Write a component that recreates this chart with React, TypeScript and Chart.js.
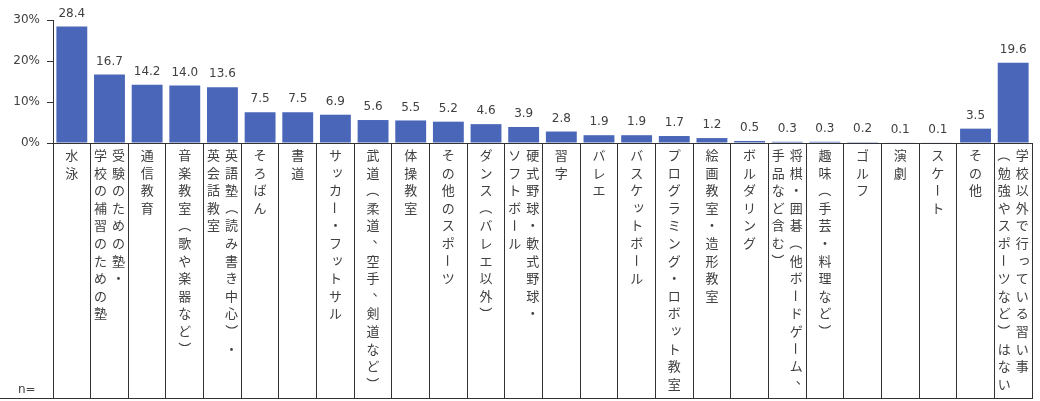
import { useEffect, useRef } from "react"
import { Chart, registerables } from "chart.js"

Chart.register(...registerables)

// カテゴリ（縦書き、各列は右から左の順）
const categories: string[][] = [
  ["水泳"],
  ["受験のための塾・", "学校の補習のための塾"],
  ["通信教育"],
  ["音楽教室（歌や楽器など）"],
  ["英語塾（読み書き中心）・", "英会話教室"],
  ["そろばん"],
  ["書道"],
  ["サッカー・フットサル"],
  ["武道（柔道、空手、剣道など）"],
  ["体操教室"],
  ["その他のスポーツ"],
  ["ダンス（バレエ以外）"],
  ["硬式野球・軟式野球・", "ソフトボール"],
  ["習字"],
  ["バレエ"],
  ["バスケットボール"],
  ["プログラミング・ロボット教室"],
  ["絵画教室・造形教室"],
  ["ボルダリング"],
  ["将棋・囲碁（他ボードゲーム、", "手品など含む）"],
  ["趣味（手芸・料理など）"],
  ["ゴルフ"],
  ["演劇"],
  ["スケート"],
  ["その他"],
  ["学校以外で行っている習い事", "（勉強やスポーツなど）はない"],
]

const values = [
  28.4, 16.7, 14.2, 14.0, 13.6, 7.5, 7.5, 6.9, 5.6, 5.5, 5.2, 4.6, 3.9,
  2.8, 1.9, 1.9, 1.7, 1.2, 0.5, 0.3, 0.3, 0.2, 0.1, 0.1, 3.5, 19.6,
]

const yTicks = [0, 10, 20, 30]
const nLabel = "n="

const TEXT = "#404040"
const LINE = "#333333"
const NUM_FONT = "12px 'DejaVu Sans', Verdana, sans-serif"
const JP_FONT = "13px 'Noto Sans CJK JP', sans-serif"

const rotated = "ー（）～"
const small = "ッャュョァィゥェォっゃゅょぁぃぅぇぉ"

function drawChar(ctx: CanvasRenderingContext2D, ch: string, x: number, y: number) {
  if (rotated.includes(ch)) {
    ctx.save()
    ctx.translate(x, y)
    ctx.rotate(Math.PI / 2)
    ctx.fillText(ch, 0, 0)
    ctx.restore()
  } else if (small.includes(ch)) {
    ctx.fillText(ch, x + 2, y - 2)
  } else if (ch === "、" || ch === "。") {
    ctx.fillText(ch, x + 6, y - 6)
  } else {
    ctx.fillText(ch, x, y)
  }
}

// 棒の上の数値
const valueLabels = {
  id: "valueLabels",
  afterDatasetsDraw(chart: Chart) {
    const ctx = chart.ctx
    const meta = chart.getDatasetMeta(0)
    ctx.save()
    ctx.font = NUM_FONT
    ctx.fillStyle = TEXT
    ctx.textAlign = "center"
    ctx.textBaseline = "middle"
    meta.data.forEach((bar: any, i: number) => {
      ctx.fillText(values[i].toFixed(1), bar.x, bar.y - 13)
    })
    ctx.restore()
  },
}

// 縦書きの項目名と表の下線
const verticalLabels = {
  id: "verticalLabels",
  afterDraw(chart: Chart) {
    const ctx = chart.ctx
    const xScale = chart.scales.x
    const area = chart.chartArea
    ctx.save()
    ctx.font = JP_FONT
    ctx.fillStyle = TEXT
    ctx.textAlign = "center"
    ctx.textBaseline = "middle"
    categories.forEach((cols, i) => {
      const cx = xScale.getPixelForValue(i)
      cols.forEach((col, j) => {
        const colX = cx + ((cols.length - 1) / 2 - j) * 18
        Array.from(col).forEach((ch, k) => {
          drawChar(ctx, ch, colX, area.bottom + 12 + k * 17.6)
        })
      })
    })

    ctx.font = NUM_FONT
    ctx.textAlign = "left"
    ctx.fillText(nLabel, 18, xScale.bottom - 9)

    ctx.strokeStyle = LINE
    ctx.lineWidth = 1
    ctx.beginPath()
    ctx.moveTo(0, xScale.bottom - 0.5)
    ctx.lineTo(area.right, xScale.bottom - 0.5)
    ctx.stroke()
    ctx.restore()
  },
}

export default function App() {
  const canvasRef = useRef<HTMLCanvasElement>(null)
  const chartInstance = useRef<Chart | null>(null)

  useEffect(() => {
    if (!canvasRef.current) return
    if (chartInstance.current) chartInstance.current.destroy()

    chartInstance.current = new Chart(canvasRef.current, {
      type: "bar",
      data: {
        labels: categories.map((c) => c.join("")),
        datasets: [
          {
            data: values,
            backgroundColor: "#4a66b8",
            borderWidth: 0,
            barPercentage: 0.82,
            categoryPercentage: 1,
          },
        ],
      },
      options: {
        responsive: false,
        animation: false,
        layout: { padding: { top: 20, right: 8, bottom: 2, left: 0 } },
        plugins: {
          legend: { display: false },
          tooltip: { enabled: false },
        },
        scales: {
          x: {
            offset: true,
            grid: {
              offset: true,
              drawOnChartArea: false,
              tickLength: 256,
              color: LINE,
            },
            border: { color: LINE },
            ticks: { display: false },
          },
          y: {
            min: 0,
            max: 30,
            afterFit: (scale: any) => {
              scale.width = 53
            },
            afterBuildTicks: (scale: any) => {
              scale.ticks = yTicks.map((v) => ({ value: v }))
            },
            grid: {
              drawOnChartArea: false,
              tickLength: 6,
              color: LINE,
            },
            border: { color: LINE },
            ticks: {
              padding: 7,
              color: TEXT,
              font: { family: "'DejaVu Sans', Verdana, sans-serif", size: 12 },
              callback: (v: any) => `${v}%`,
            },
          },
        },
      },
      plugins: [valueLabels, verticalLabels],
    })

    return () => {
      if (chartInstance.current) {
        chartInstance.current.destroy()
        chartInstance.current = null
      }
    }
  }, [])

  return (
    <div style={{ position: "fixed", left: 0, top: 0, width: 1040, height: 401, background: "#fff" }}>
      <canvas ref={canvasRef} width={1040} height={401} />
    </div>
  )
}
